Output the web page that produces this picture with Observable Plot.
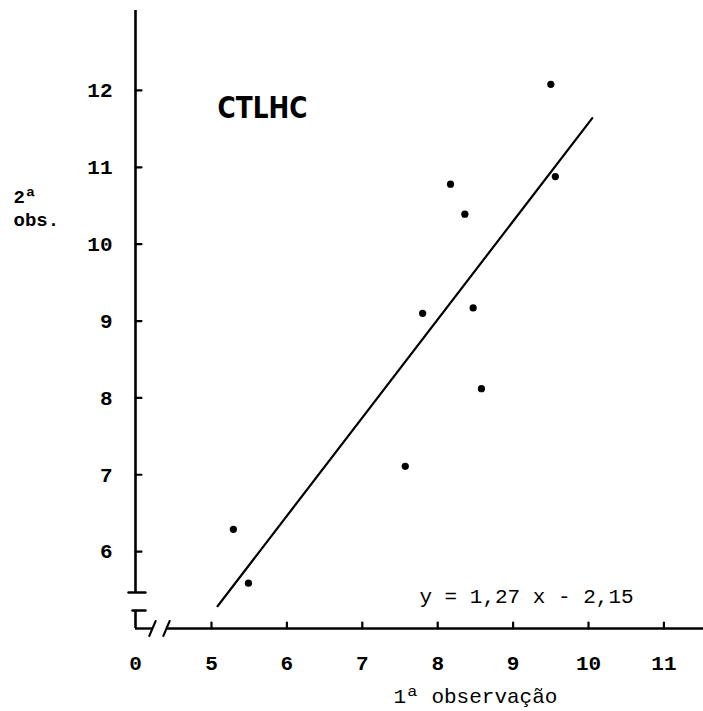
<!DOCTYPE html>
<html><head><meta charset="utf-8">
<script src="https://cdn.jsdelivr.net/npm/d3@7"></script>
<script src="https://cdn.jsdelivr.net/npm/@observablehq/plot@0.6"></script>
<style>html,body{margin:0;padding:0;background:#fff} svg{display:block}</style>
</head><body><div id="chart"></div>
<script>
// ---- data ----
const obs1 = [5.29, 5.49, 7.57, 7.80, 8.17, 8.36, 8.47, 8.58, 9.50, 9.56];
const obs2 = [6.29, 5.59, 7.11, 9.10, 10.78, 10.39, 9.17, 8.12, 12.08, 10.88];
const fitX = [5.08, 10.05];
const fitY = [5.29, 11.64];
const xTickValues = [5, 6, 7, 8, 9, 10, 11];
const yTickValues = [6, 7, 8, 9, 10, 11, 12];
const xOriginLabel = "0";
const xOrigin = 3.992;
const yOrigin = 5.0;
const xDomain = [3.992, 11.525];
const yDomain = [5.0, 13.04];
const yBreak = [5.234, 5.468];
const xBreak = [4.217, 4.403];
const title = "CTLHC";
const equation = "y = 1,27 x - 2,15";
const xLabel = "1ª observação";
const yLabel = "2ª\nobs.";

const points = obs1.map((x, i) => ({x, y: obs2[i]}));
const fit = fitX.map((x, i) => ({x, y: fitY[i]}));
const lineShape = {draw(context, l) { context.moveTo(0, 0); context.lineTo(0, -l); }};
const mono = "Liberation Mono, DejaVu Sans Mono, monospace";

const chart = Plot.plot({
  width: 703,
  height: 711,
  marginLeft: 135,
  marginRight: 0,
  marginTop: 10,
  marginBottom: 83,
  style: {background: "white", fontFamily: mono, color: "black"},
  x: {domain: xDomain},
  y: {domain: yDomain},
  marks: [
    // y axis (broken)
    Plot.ruleX([xOrigin], {y1: yBreak[1], y2: yDomain[1], strokeWidth: 2.6, stroke: "black"}),
    Plot.ruleX([xOrigin], {y1: yOrigin, y2: yBreak[0], strokeWidth: 2.6, stroke: "black"}),
    Plot.vector([yBreak[1]], {x: xOrigin, y: d => d, rotate: 90, length: 17, anchor: "middle", dx: 1.5, shape: lineShape, strokeWidth: 2.4, stroke: "black"}),
    Plot.vector([yBreak[0]], {x: xOrigin, y: d => d, rotate: 90, length: 13, anchor: "middle", dx: 3.5, shape: lineShape, strokeWidth: 2.4, stroke: "black"}),
    // x axis (broken)
    Plot.ruleY([yOrigin], {x1: xOrigin, x2: xBreak[0], strokeWidth: 2.4, stroke: "black"}),
    Plot.ruleY([yOrigin], {x1: xBreak[1], x2: xDomain[1], strokeWidth: 2.4, stroke: "black"}),
    Plot.vector(xBreak, {x: d => d, y: yOrigin, rotate: 23, length: 16, anchor: "middle", shape: lineShape, strokeWidth: 2.2, stroke: "black"}),
    // inward tick marks
    Plot.vector(xTickValues, {x: d => d, y: yOrigin, length: 6, anchor: "start", shape: lineShape, strokeWidth: 2.2, stroke: "black"}),
    Plot.vector(yTickValues, {x: xOrigin, y: d => d, rotate: 90, length: 6, anchor: "start", shape: lineShape, strokeWidth: 2.2, stroke: "black"}),
    // tick labels
    Plot.axisX([xOrigin, ...xTickValues], {
      tickSize: 0, tickPadding: 27,
      tickFormat: d => d === xOrigin ? xOriginLabel : String(d),
      fontSize: 21, fontWeight: "bold", fontFamily: mono, label: null
    }),
    Plot.axisY(yTickValues, {
      tickSize: 0, tickPadding: 23,
      tickFormat: d => String(d),
      fontSize: 21, fontWeight: "bold", fontFamily: mono, label: null
    }),
    // regression line and observations
    Plot.line(fit, {x: "x", y: "y", stroke: "black", strokeWidth: 2.2}),
    Plot.dot(points, {x: "x", y: "y", r: 3.6, fill: "black", stroke: "none"}),
    // texts
    Plot.text([title], {text: d => d, frameAnchor: "top-left", dx: 127, dy: 98, lineAnchor: "middle",
      fontSize: 31, fontWeight: "bold", fontFamily: "DejaVu Sans, sans-serif", textAnchor: "middle"}),
    Plot.text([equation], {text: d => d, frameAnchor: "bottom-left", dx: 391, dy: -32, lineAnchor: "middle",
      fontSize: 21, fontFamily: mono, textAnchor: "middle"}),
    Plot.text([xLabel], {text: d => d, frameAnchor: "bottom-left", dx: 340, dy: 68, lineAnchor: "middle",
      fontSize: 21, fontFamily: mono, textAnchor: "middle"}),
    Plot.text([yLabel], {text: d => d, frameAnchor: "top-left", dx: -122, dy: 176.5, lineAnchor: "top",
      fontSize: 19, lineHeight: 1.2, fontFamily: mono, fontWeight: "bold", textAnchor: "start"})
  ]
});
// condense the title horizontally, like the stencil lettering in the reference
d3.select(chart).selectAll("text").filter(function () { return this.textContent === title; }).each(function () {
  const bx = +(this.getAttribute("x") || 0);
  const t = this.getAttribute("transform") || "";
  this.setAttribute("transform", `${t} translate(${bx},0) scale(0.8,1) translate(${-bx},0)`);
});
document.getElementById("chart").appendChild(chart);
</script>
</body></html>
